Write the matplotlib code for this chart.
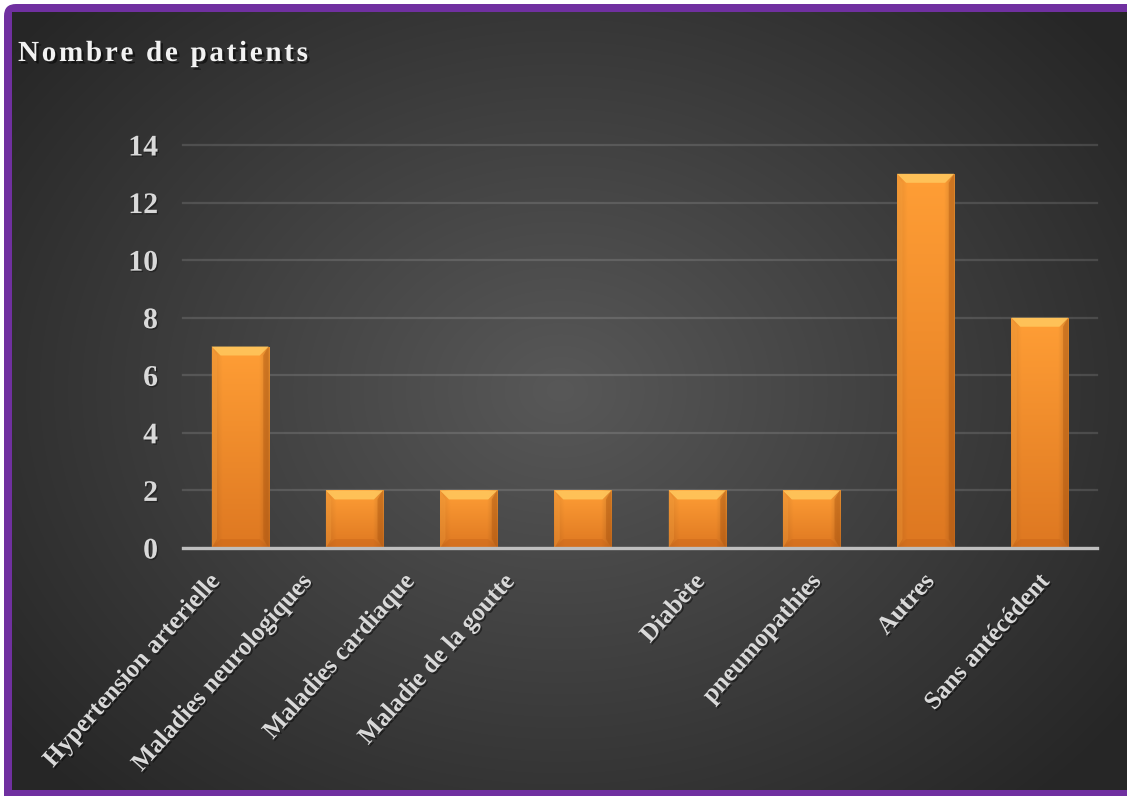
import numpy as np
import matplotlib
matplotlib.use('Agg')
import matplotlib.pyplot as plt
import matplotlib.patheffects as pe
from matplotlib.patches import FancyBboxPatch, Polygon
from matplotlib.font_manager import FontProperties
from matplotlib.textpath import TextToPath

# --- data ---
categories = ['Hypertension arterielle', 'Maladies neurologiques', 'Maladies cardiaque',
              'Maladie de la goutte', 'Diabète', 'pneumopathies', 'Autres', 'Sans antécédent']
values = [7, 2, 2, 2, 2, 2, 13, 8]
yticks = [0, 2, 4, 6, 8, 10, 12, 14]
title = 'Nombre de patients'

W, H = 1127, 796
SERIF = 'Liberation Serif'
TXT = '#D9D9D9'

fig = plt.figure(figsize=(W / 100, H / 100), dpi=100)
fig.patch.set_facecolor('white')

# background layer in pixel coordinates
bg = fig.add_axes([0, 0, 1, 1])
bg.set_axis_off()
bg.set_xlim(0, W)
bg.set_ylim(H, 0)
bg.add_patch(FancyBboxPatch((4, 4), W + 30, H + 30,
                            boxstyle='round,pad=0,rounding_size=12',
                            fc='#7030A0', ec='none'))

# radial grey gradient inside the frame
x0, x1, y0, y1 = 12, W, 12, 790
yy, xx = np.mgrid[y0:y1, x0:x1]
r = np.sqrt(((xx - 560) / 700.0) ** 2 + ((yy - 390) / 560.0) ** 2)
shade = 0.345 - 0.195 * np.clip(r, 0, 1)
img = np.dstack([shade, shade, shade])
bg.imshow(img, extent=(x0, x1, y1, y0), aspect='auto', interpolation='bilinear', zorder=1)

# --- main axes ---
left, right, top, bottom = 183, 1097, 145, 548
ax = fig.add_axes([left / W, 1 - bottom / H, (right - left) / W, (bottom - top) / H])
ax.set_facecolor('none')
ax.set_xlim(-0.5, len(categories) - 0.5)
ax.set_ylim(0, 14)

px_x = (right - left) / len(categories)   # pixels per category
px_y = (bottom - top) / 14.0              # pixels per unit

ax.set_yticks(yticks)
ax.yaxis.grid(True, color='white', alpha=0.13, lw=1.6)
for gl in ax.get_ygridlines():
    gl.set_clip_on(False)
ax.set_axisbelow(True)
for s in ['top', 'right', 'left']:
    ax.spines[s].set_visible(False)
ax.spines['bottom'].set_color('#BFBFBF')
ax.spines['bottom'].set_linewidth(2.4)
ax.spines['bottom'].set_zorder(5)
ax.tick_params(axis='both', length=0)
ax.tick_params(axis='y', pad=18)
ax.set_xticks(range(len(categories)))
ax.set_xticklabels([])
for lab in ax.get_yticklabels():
    lab.set_fontfamily(SERIF)
    lab.set_fontweight('bold')
    lab.set_fontsize(21.5)
    lab.set_color(TXT)
    lab.set_path_effects([pe.SimplePatchShadow(offset=(1, -1), shadow_rgbFace='black',
                                               alpha=0.35), pe.Normal()])

# bars with vertical orange gradient and bevelled edges
bw = 0.5
bars = ax.bar(range(len(categories)), values, width=bw, color='#F28A26',
              edgecolor='#C2641A', linewidth=0.6, zorder=3)
top_c = np.array([1.0, 0.62, 0.21])
bot_c = np.array([0.87, 0.47, 0.13])
t = np.linspace(0, 1, 64)[:, None]
grad = (top_c * (1 - t) + bot_c * t)[:, None, :]
grad = np.repeat(grad, 8, axis=1)
grad[:, 0, :] *= 0.93
grad[:, -1, :] *= 0.88

bx = 9 / px_x   # bevel size in data units
by = 9 / px_y
for b in bars:
    xl, w, h = b.get_x(), b.get_width(), b.get_height()
    xr = xl + w
    im = ax.imshow(grad, extent=(xl, xr, 0, h), aspect='auto', zorder=3.1,
                   interpolation='bilinear')
    im.set_clip_path(b)
    # top bevel
    ax.add_patch(Polygon([(xl, h), (xr, h), (xr - bx, h - by), (xl + bx, h - by)],
                         closed=True, fc='#FFC65C', ec='none', alpha=0.9, zorder=3.2))
    # bottom bevel
    ax.add_patch(Polygon([(xl, 0), (xr, 0), (xr - bx, by), (xl + bx, by)],
                         closed=True, fc='#C9661A', ec='none', alpha=0.45, zorder=3.2))
    # side bevels
    ax.add_patch(Polygon([(xl, 0), (xl, h), (xl + bx * 0.6, h - by), (xl + bx * 0.6, by)],
                         closed=True, fc='#FFA640', ec='none', alpha=0.3, zorder=3.2))
    ax.add_patch(Polygon([(xr, 0), (xr, h), (xr - bx * 0.6, h - by), (xr - bx * 0.6, by)],
                         closed=True, fc='#B0560F', ec='none', alpha=0.4, zorder=3.2))

# rotated category labels (long ones on the left are pulled leftwards)
label_shift_px = [33, 55, 67, 81, 5, 3, 4, 3]
shadow = [pe.SimplePatchShadow(offset=(1.2, -1.2), shadow_rgbFace='black', alpha=0.45),
          pe.Normal()]
for i, cat in enumerate(categories):
    ax.annotate(cat, xy=(i, 0), xycoords=('data', 'axes fraction'),
                xytext=(-label_shift_px[i] * 0.72, -22 * 0.72), textcoords='offset points',
                rotation=48, rotation_mode='anchor', ha='right', va='top',
                fontfamily=SERIF, fontweight='bold', fontsize=18.2, color=TXT,
                path_effects=shadow, annotation_clip=False)

# letter-spaced title
fp = FontProperties(family=SERIF, weight='bold', size=21)
ttp = TextToPath()
widths = [ttp.get_text_width_height_descent(c, fp, ismath=False)[0] / 0.72 for c in title]
spacing = (308 - 18 - sum(widths)) / (len(title) - 1)
xpos = 18.0
for c, w in zip(title, widths):
    fig.text(xpos / W, 1 - 61 / H, c, fontproperties=fp, color='#F2F2F2',
             ha='left', va='baseline',
             path_effects=[pe.SimplePatchShadow(offset=(1.8, -1.8), shadow_rgbFace='black',
                                                alpha=0.5), pe.Normal()])
    xpos += w + spacing

fig.savefig('out.png', dpi=100)
